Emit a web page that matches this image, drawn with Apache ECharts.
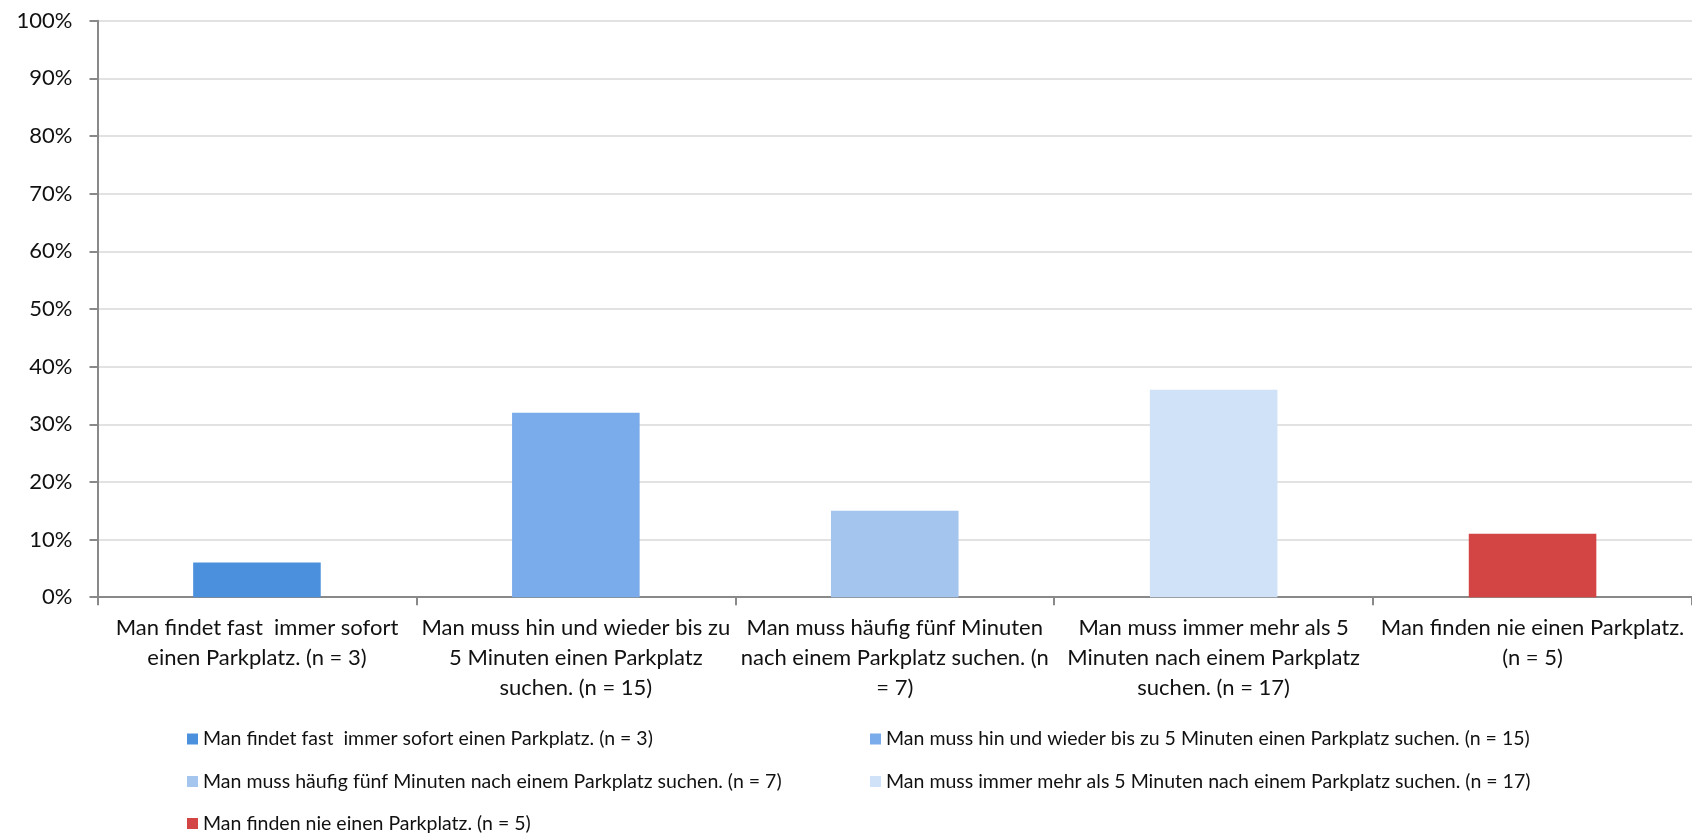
<!DOCTYPE html>
<html>
<head>
<meta charset="utf-8">
<title>Parkplatzsuche</title>
<script src="https://cdn.jsdelivr.net/npm/echarts@6/dist/echarts.min.js"></script>
<style>
  html, body { margin: 0; padding: 0; background: #ffffff; }
  #chart { width: 1692px; height: 833px; }
</style>
</head>
<body>
<div id="chart"></div>
<script>
// Answer categories (legend names)
const categories = [
  'Man findet fast  immer sofort einen Parkplatz. (n = 3)',
  'Man muss hin und wieder bis zu 5 Minuten einen Parkplatz suchen. (n = 15)',
  'Man muss häufig fünf Minuten nach einem Parkplatz suchen. (n = 7)',
  'Man muss immer mehr als 5 Minuten nach einem Parkplatz suchen. (n = 17)',
  'Man finden nie einen Parkplatz. (n = 5)'
];

// Category axis labels, wrapped as printed under each bar
const tickLabels = [
  'Man findet fast  immer sofort\neinen Parkplatz. (n = 3)',
  'Man muss hin und wieder bis zu\n5 Minuten einen Parkplatz\nsuchen. (n = 15)',
  'Man muss häufig fünf Minuten\nnach einem Parkplatz suchen. (n\n= 7)',
  'Man muss immer mehr als 5\nMinuten nach einem Parkplatz\nsuchen. (n = 17)',
  'Man finden nie einen Parkplatz.\n(n = 5)'
];

// Share of answers in percent
const shares = [6, 32, 15, 36, 11];

const barColors = ['#4A90DC', '#7AABEB', '#A4C5EE', '#CFE2F7', '#D34545'];

const FONT = 'Lato, "Open Sans", sans-serif';

// one series per answer so each gets its own legend entry
const series = categories.map((name, i) => ({
  name: name,
  type: 'bar',
  stack: 'answers',
  barWidth: '40%',
  itemStyle: { color: barColors[i] },
  emphasis: { disabled: true },
  data: shares.map((v, j) => (j === i ? v : '-'))
}));

// legend grid: two columns, three rows (row-major order)
const legendColumns = [187, 870];
const legendRows = [739, 781.5, 823.5];

const legends = categories.map((name, i) => ({
  orient: 'horizontal',
  left: legendColumns[i % 2],
  top: legendRows[Math.floor(i / 2)] - 10,
  padding: 0,
  itemWidth: 11,
  itemHeight: 11,
  icon: 'rect',
  selectedMode: false,
  textStyle: { fontFamily: FONT, fontSize: 19.5, color: '#111', lineHeight: 20 },
  data: [name]
}));

const option = {
  animation: false,
  backgroundColor: '#ffffff',
  grid: { left: 97.5, top: 20.7, width: 1597, height: 576.5 },
  xAxis: {
    type: 'category',
    data: categories,
    boundaryGap: true,
    axisLine: { lineStyle: { color: '#898989', width: 2 } },
    axisTick: { show: true, length: 8, lineStyle: { color: '#898989', width: 2 } },
    axisLabel: {
      interval: 0,
      margin: 16,
      fontFamily: FONT,
      fontSize: 22,
      lineHeight: 30,
      color: '#111',
      align: 'center',
      formatter: (value, idx) => tickLabels[idx]
    },
    splitLine: { show: false }
  },
  yAxis: {
    type: 'value',
    min: 0,
    max: 100,
    interval: 10,
    axisLine: { show: true, lineStyle: { color: '#898989', width: 2 } },
    axisTick: { show: true, length: 8, lineStyle: { color: '#898989', width: 2 } },
    axisLabel: {
      formatter: '{value}%',
      margin: 25,
      fontFamily: FONT,
      fontSize: 22,
      color: '#111'
    },
    splitLine: { lineStyle: { color: '#D9D9D9', width: 1.6 } }
  },
  legend: legends,
  series: series
};

const chart = echarts.init(document.getElementById('chart'), null, { renderer: 'canvas' });
chart.setOption(option);
</script>
</body>
</html>
